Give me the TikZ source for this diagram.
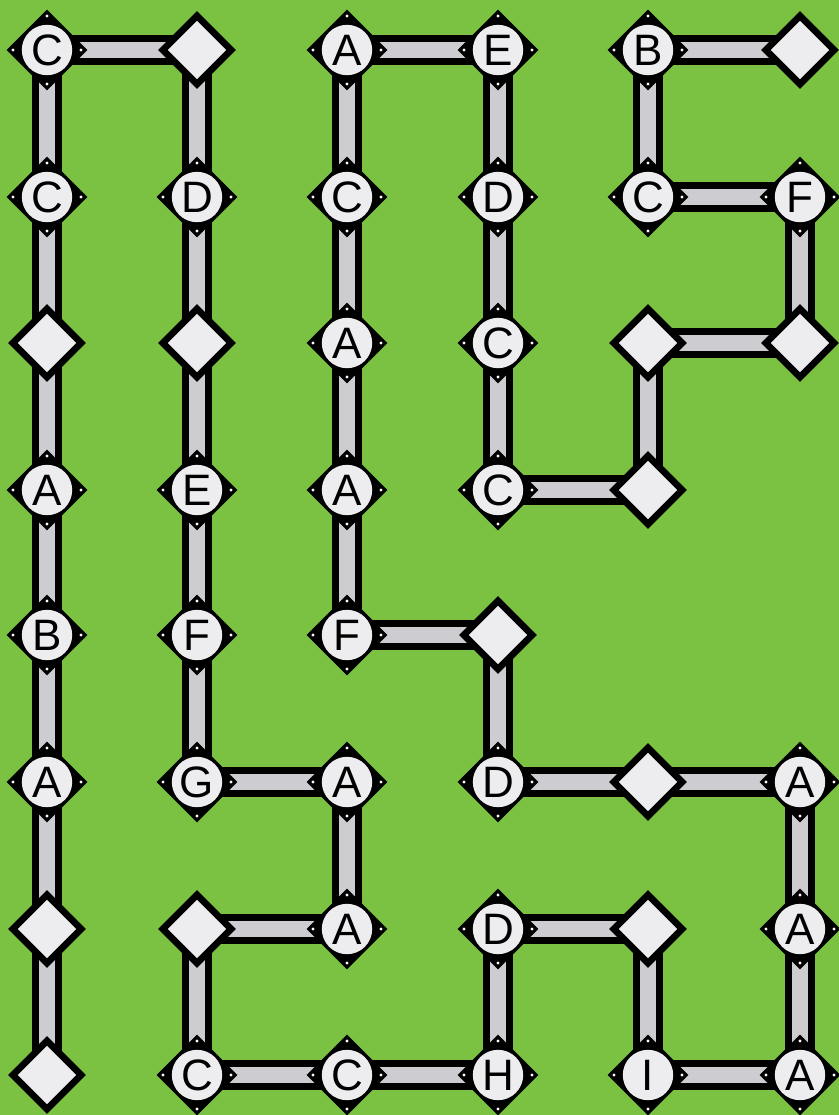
\documentclass[tikz,border=0pt]{standalone}
\usepackage{fontspec}
\setmainfont{Liberation Sans}
\usetikzlibrary{shapes.geometric,backgrounds}
\definecolor{boardgreen}{HTML}{7BC142}
\definecolor{barsilver}{HTML}{CDCDD1}
\definecolor{capwhite}{HTML}{EDEDF0}
\newcommand{\letterfont}{\fontsize{22}{22}\selectfont}

\begin{document}
\begin{tikzpicture}[x=0.5pt,y=-0.5pt]
  \path[use as bounding box] (0,0) rectangle (839,1115);
  \tikzset{
    letter/.style={diamond,aspect=1,fill=black,inner sep=0pt,minimum size=40.5pt,font=\letterfont,
      path picture={\fill[capwhite] (path picture bounding box.center) circle (12.6pt);
        \foreach \a in {0,90,180,270} \fill[white] ([shift={(\a:17pt)}]path picture bounding box.center) circle (0.8pt);}},
    blank/.style={diamond,aspect=1,fill=capwhite,draw=black,line width=3.4pt,inner sep=0pt,minimum size=35.5pt},
    bar/.style={line width=3.5pt,double=barsilver,double distance=8pt}
  }
  % column 1
  \node[letter] (c1r1) at (47,50) {C};
  \node[letter] (c1r2) at (47,197) {C};
  \node[blank] (c1r3) at (47,343) {};
  \node[letter] (c1r4) at (47,490) {A};
  \node[letter] (c1r5) at (47,635) {B};
  \node[letter] (c1r6) at (47,782) {A};
  \node[blank] (c1r7) at (47,929) {};
  \node[blank] (c1r8) at (47,1075) {};
  % column 2
  \node[blank] (c2r1) at (197,50) {};
  \node[letter] (c2r2) at (197,197) {D};
  \node[blank] (c2r3) at (197,343) {};
  \node[letter] (c2r4) at (197,490) {E};
  \node[letter] (c2r5) at (197,635) {F};
  \node[letter] (c2r6) at (197,782) {G};
  \node[blank] (c2r7) at (197,929) {};
  \node[letter] (c2r8) at (197,1075) {C};
  % column 3
  \node[letter] (c3r1) at (347,50) {A};
  \node[letter] (c3r2) at (347,197) {C};
  \node[letter] (c3r3) at (347,343) {A};
  \node[letter] (c3r4) at (347,490) {A};
  \node[letter] (c3r5) at (347,635) {F};
  \node[letter] (c3r6) at (347,782) {A};
  \node[letter] (c3r7) at (347,929) {A};
  \node[letter] (c3r8) at (347,1075) {C};
  % column 4
  \node[letter] (c4r1) at (498,50) {E};
  \node[letter] (c4r2) at (498,197) {D};
  \node[letter] (c4r3) at (498,343) {C};
  \node[letter] (c4r4) at (498,490) {C};
  \node[blank] (c4r5) at (498,635) {};
  \node[letter] (c4r6) at (498,782) {D};
  \node[letter] (c4r7) at (498,929) {D};
  \node[letter] (c4r8) at (498,1075) {H};
  % column 5
  \node[letter] (c5r1) at (648,50) {B};
  \node[letter] (c5r2) at (648,197) {C};
  \node[blank] (c5r3) at (648,343) {};
  \node[blank] (c5r4) at (648,490) {};
  \node[blank] (c5r6) at (648,782) {};
  \node[blank] (c5r7) at (648,929) {};
  \node[letter] (c5r8) at (648,1075) {I};
  % column 6
  \node[blank] (c6r1) at (800,50) {};
  \node[letter] (c6r2) at (800,197) {F};
  \node[blank] (c6r3) at (800,343) {};
  \node[letter] (c6r6) at (800,782) {A};
  \node[letter] (c6r7) at (800,929) {A};
  \node[letter] (c6r8) at (800,1075) {A};

  \begin{scope}[on background layer]
    \fill[boardgreen] (0,0) rectangle (839,1115);
    \draw[bar] (c1r8.center) -- (c1r7.center);
    \draw[bar] (c1r7.center) -- (c1r6.center);
    \draw[bar] (c1r6.center) -- (c1r5.center);
    \draw[bar] (c1r5.center) -- (c1r4.center);
    \draw[bar] (c1r4.center) -- (c1r3.center);
    \draw[bar] (c1r3.center) -- (c1r2.center);
    \draw[bar] (c1r2.center) -- (c1r1.center);
    \draw[bar] (c1r1.center) -- (c2r1.center);
    \draw[bar] (c2r1.center) -- (c2r2.center);
    \draw[bar] (c2r2.center) -- (c2r3.center);
    \draw[bar] (c2r3.center) -- (c2r4.center);
    \draw[bar] (c2r4.center) -- (c2r5.center);
    \draw[bar] (c2r5.center) -- (c2r6.center);
    \draw[bar] (c2r6.center) -- (c3r6.center);
    \draw[bar] (c3r6.center) -- (c3r7.center);
    \draw[bar] (c3r7.center) -- (c2r7.center);
    \draw[bar] (c2r7.center) -- (c2r8.center);
    \draw[bar] (c2r8.center) -- (c3r8.center);
    \draw[bar] (c3r8.center) -- (c4r8.center);
    \draw[bar] (c4r8.center) -- (c4r7.center);
    \draw[bar] (c4r7.center) -- (c5r7.center);
    \draw[bar] (c5r7.center) -- (c5r8.center);
    \draw[bar] (c5r8.center) -- (c6r8.center);
    \draw[bar] (c6r8.center) -- (c6r7.center);
    \draw[bar] (c6r7.center) -- (c6r6.center);
    \draw[bar] (c6r6.center) -- (c5r6.center);
    \draw[bar] (c5r6.center) -- (c4r6.center);
    \draw[bar] (c4r6.center) -- (c4r5.center);
    \draw[bar] (c4r5.center) -- (c3r5.center);
    \draw[bar] (c3r5.center) -- (c3r4.center);
    \draw[bar] (c3r4.center) -- (c3r3.center);
    \draw[bar] (c3r3.center) -- (c3r2.center);
    \draw[bar] (c3r2.center) -- (c3r1.center);
    \draw[bar] (c3r1.center) -- (c4r1.center);
    \draw[bar] (c4r1.center) -- (c4r2.center);
    \draw[bar] (c4r2.center) -- (c4r3.center);
    \draw[bar] (c4r3.center) -- (c4r4.center);
    \draw[bar] (c4r4.center) -- (c5r4.center);
    \draw[bar] (c5r4.center) -- (c5r3.center);
    \draw[bar] (c5r3.center) -- (c6r3.center);
    \draw[bar] (c6r3.center) -- (c6r2.center);
    \draw[bar] (c6r2.center) -- (c5r2.center);
    \draw[bar] (c5r2.center) -- (c5r1.center);
    \draw[bar] (c5r1.center) -- (c6r1.center);
  \end{scope}
\end{tikzpicture}
\end{document}
